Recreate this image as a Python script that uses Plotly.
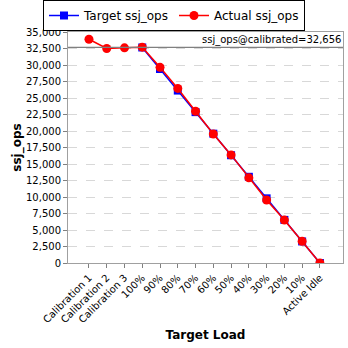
import plotly.graph_objects as go

categories = ["Calibration 1", "Calibration 2", "Calibration 3", "100%", "90%", "80%",
              "70%", "60%", "50%", "40%", "30%", "20%", "10%", "Active Idle"]
target_ops = [None, None, None, 32656, 29390, 26125, 22859, 19594, 16328, 13062, 9797, 6531, 3266, 0]
actual_ops = [33900, 32500, 32600, 32700, 29650, 26450, 23000, 19550, 16380, 12900, 9550, 6500, 3290, 0]
calibrated = 32656
y_ticks = list(range(0, 35001, 2500))
y_tick_labels = [f"{v:,}" for v in y_ticks]

font = "DejaVu Sans"
fig = go.Figure()
fig.add_trace(go.Scatter(x=categories, y=target_ops, name="Target ssj_ops", mode="lines+markers",
                         line=dict(color="#0000ff", width=1.5),
                         marker=dict(symbol="square", size=8, color="#0000ff")))
fig.add_trace(go.Scatter(x=categories, y=actual_ops, name="Actual ssj_ops", mode="lines+markers",
                         line=dict(color="#ff0000", width=1.5),
                         marker=dict(symbol="circle", size=9, color="#ff0000")))
fig.add_shape(type="line", xref="paper", x0=0, x1=1, yref="y", y0=calibrated, y1=calibrated,
              line=dict(color="#808080", width=1.2))
fig.add_annotation(xref="paper", x=1, yref="y", y=calibrated, text=f"ssj_ops@calibrated={calibrated:,}",
                   showarrow=False, xanchor="right", yanchor="bottom", yshift=-1,
                   font=dict(family=font, size=10, color="#000000"))
fig.update_layout(
    width=348, height=348, paper_bgcolor="white", plot_bgcolor="white",
    margin=dict(l=68, r=5, t=32, b=85, autoexpand=False),
    font=dict(family=font, size=10, color="#000000"),
    showlegend=True,
    legend=dict(orientation="h", x=0.5, xref="container", xanchor="center", y=1, yref="container", yanchor="top",
                bordercolor="#000000", borderwidth=1, font=dict(family=font, size=12),
                tracegroupgap=0),
    xaxis=dict(type="category", range=[-1.18, 14.3], tickangle=-45, ticks="outside", ticklen=4,
               tickcolor="#808080", showline=True, linecolor="#a0a0a0", mirror=True, showgrid=False,
               title=dict(text="<b>Target Load</b>", font=dict(family=font, size=12), standoff=6),
               tickfont=dict(family=font, size=10)),
    yaxis=dict(range=[0, 35000], tickvals=y_ticks, ticktext=y_tick_labels, ticks="outside", ticklen=4,
               tickcolor="#808080", showline=True, linecolor="#a0a0a0", mirror=True,
               showgrid=True, gridcolor="#d8d8d8", griddash="dash", zeroline=False,
               title=dict(text="<b>ssj_ops</b>", font=dict(family=font, size=12), standoff=1),
               tickfont=dict(family=font, size=10)),
)
fig.write_html("out.html")
